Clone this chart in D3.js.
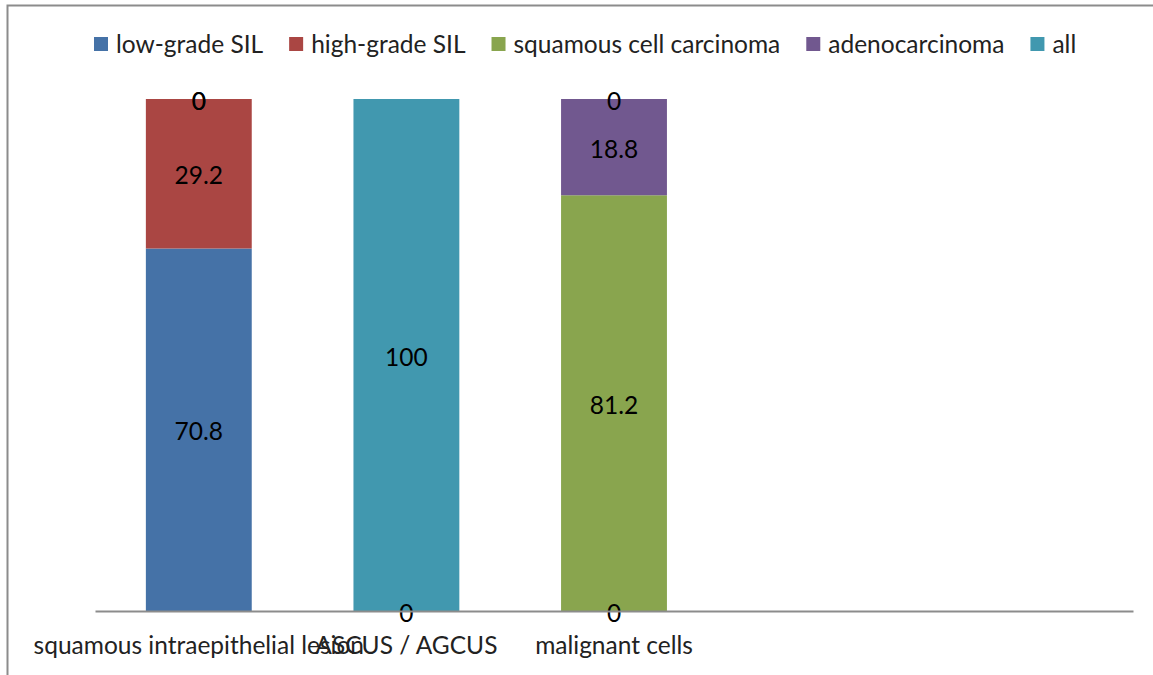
<!DOCTYPE html>
<html><head><meta charset="utf-8">
<script src="https://cdn.jsdelivr.net/npm/d3@7"></script>
<style>body{margin:0;background:#fff}svg{display:block}</style>
</head><body>
<svg id="c" width="1153" height="675"></svg>
<script>
const categories = ["squamous intraepithelial lesion", "ASCUS / AGCUS", "malignant cells", "", ""];
const seriesNames = ["low-grade SIL", "high-grade SIL", "squamous cell carcinoma", "adenocarcinoma", "all"];
const lowGradeSIL = [70.8, null, null, null, null];
const highGradeSIL = [29.2, null, 0, null, null];
const squamousCellCarcinoma = [0, 0, 81.2, null, null];
const adenocarcinoma = [0, null, 18.8, null, null];
const allValues = [null, 100, 0, null, null];
const colors = ["#4572A7", "#AA4643", "#89A54E", "#71588F", "#4198AF"];

const seriesValues = [lowGradeSIL, highGradeSIL, squamousCellCarcinoma, adenocarcinoma, allValues];
const FONT = "Lato, 'Open Sans', sans-serif";
const FS = 24.5;
const svg = d3.select("#c");

svg.append("rect").attr("x", 7.5).attr("y", 5.5).attr("width", 1160).attr("height", 690)
  .attr("fill", "none").attr("stroke", "#8c8c8c").attr("stroke-width", 2);

const x = d3.scaleBand().domain(d3.range(categories.length)).range([95, 1133]).paddingInner(0.49).paddingOuter(0.245);
const y = d3.scaleLinear().domain([0, 100]).range([611, 99]);

const segs = [];
categories.forEach((c, i) => {
  let base = 0;
  seriesValues.forEach((vals, s) => {
    const v = vals[i];
    if (v === null || v === undefined) return;
    segs.push({i, s, y0: base, y1: base + v, v});
    base += v;
  });
});

const g = svg.append("g");
g.selectAll("rect.bar").data(segs.filter(d => d.v > 0)).join("rect").attr("class", "bar")
  .attr("x", d => x(d.i)).attr("width", x.bandwidth())
  .attr("y", d => y(d.y1)).attr("height", d => y(d.y0) - y(d.y1))
  .attr("fill", d => colors[d.s]);

const axis = d3.axisBottom(x).tickSize(0).tickFormat(i => categories[i]);
const ag = svg.append("g").attr("transform", "translate(0,611)").call(axis);
ag.select(".domain").attr("stroke", "#8c8c8c").attr("stroke-width", 2);
ag.selectAll("text").attr("font-family", FONT).attr("font-size", FS).attr("fill", "#222").attr("y", 34).attr("dy", "0.35em");

g.selectAll("text.lbl").data(segs).join("text").attr("class", "lbl")
  .attr("x", d => x(d.i) + x.bandwidth() / 2)
  .attr("y", d => y((d.y0 + d.y1) / 2) + 2)
  .attr("dy", "0.35em").attr("text-anchor", "middle")
  .attr("font-family", FONT).attr("font-size", FS).attr("fill", "#000")
  .text(d => d3.format("~")(d.v));

const lg = svg.append("g").attr("transform", "translate(94,44)");
let lx = 0;
seriesNames.forEach((n, s) => {
  const it = lg.append("g").attr("transform", `translate(${lx},0)`);
  it.append("rect").attr("x", 0).attr("y", -7).attr("width", 14).attr("height", 14).attr("fill", colors[s]);
  const t = it.append("text").attr("x", 22).attr("dy", "0.35em").attr("font-family", FONT).attr("font-size", FS).attr("fill", "#222").text(n);
  lx += 22 + t.node().getComputedTextLength() + 26;
});
</script>
</body></html>
